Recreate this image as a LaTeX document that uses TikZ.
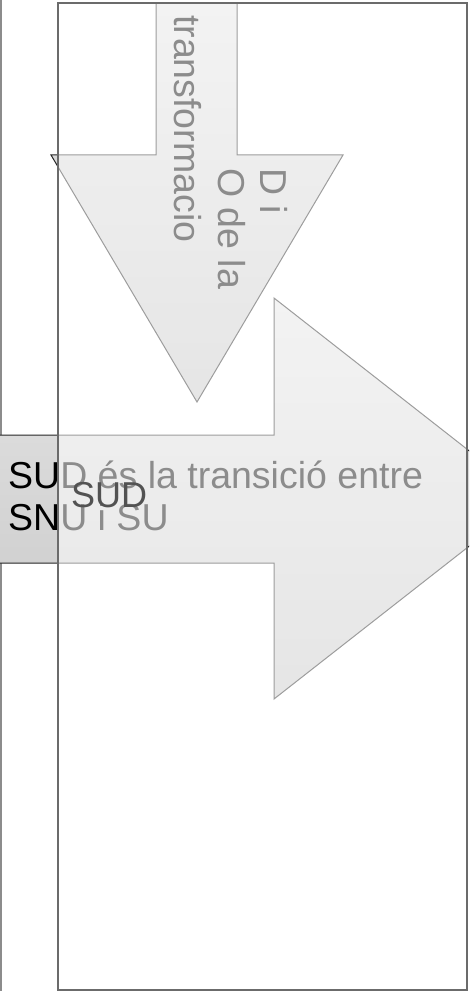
\documentclass[tikz,border=0pt]{standalone}
\usepackage{fontspec}
\setmainfont{Liberation Sans}
\begin{document}
\begin{tikzpicture}[x=1pt,y=-1pt,
  arrowshape/.style={draw=black!85,line width=1pt,top color=black!10,bottom color=black!22,line join=miter},
  overlay box/.style={draw=black!58,line width=1.5pt,fill=white,fill opacity=0.55},
  bigtext/.style={inner sep=0pt,font=\fontsize{37.5}{44}\selectfont},
]
\useasboundingbox (0,0) rectangle (469,995);
\clip (0,0) rectangle (469,995);
% left edge line of an outside box
\draw[black!45,line width=1.5pt] (1,-5) -- (1,991);
% down arrow
\draw[arrowshape] (156,3) -- (237,3) -- (237,155) -- (343,155) -- (197,402) -- (51,155) -- (156,155) -- cycle;
% right arrow
\draw[arrowshape] (-5,435) -- (274,435) -- (274,298) -- (530,498.5) -- (274,699) -- (274,563) -- (-5,563) -- cycle;
% texts under the overlay
\node[bigtext,anchor=base west] (l1) at (8,488) {SUD és la transició entre};
\node[bigtext,anchor=base west] (l2) at (8,530) {SNU i SU};
\node[bigtext,anchor=base west,rotate=-90] (d1) at (260,168) {D i};
\node[bigtext,anchor=base west,rotate=-90] (d2) at (218,168) {O de la};
\node[bigtext,anchor=base west,rotate=-90] (d3) at (174,15) {transformacio};
% semi-transparent main box
\draw[overlay box] (58,3) rectangle (467,990);
% text on top
\node[inner sep=0pt,anchor=base west,font=\fontsize{36}{42}\selectfont,text=black!68] (sud) at (71,507) {SUD};
\end{tikzpicture}
\end{document}
